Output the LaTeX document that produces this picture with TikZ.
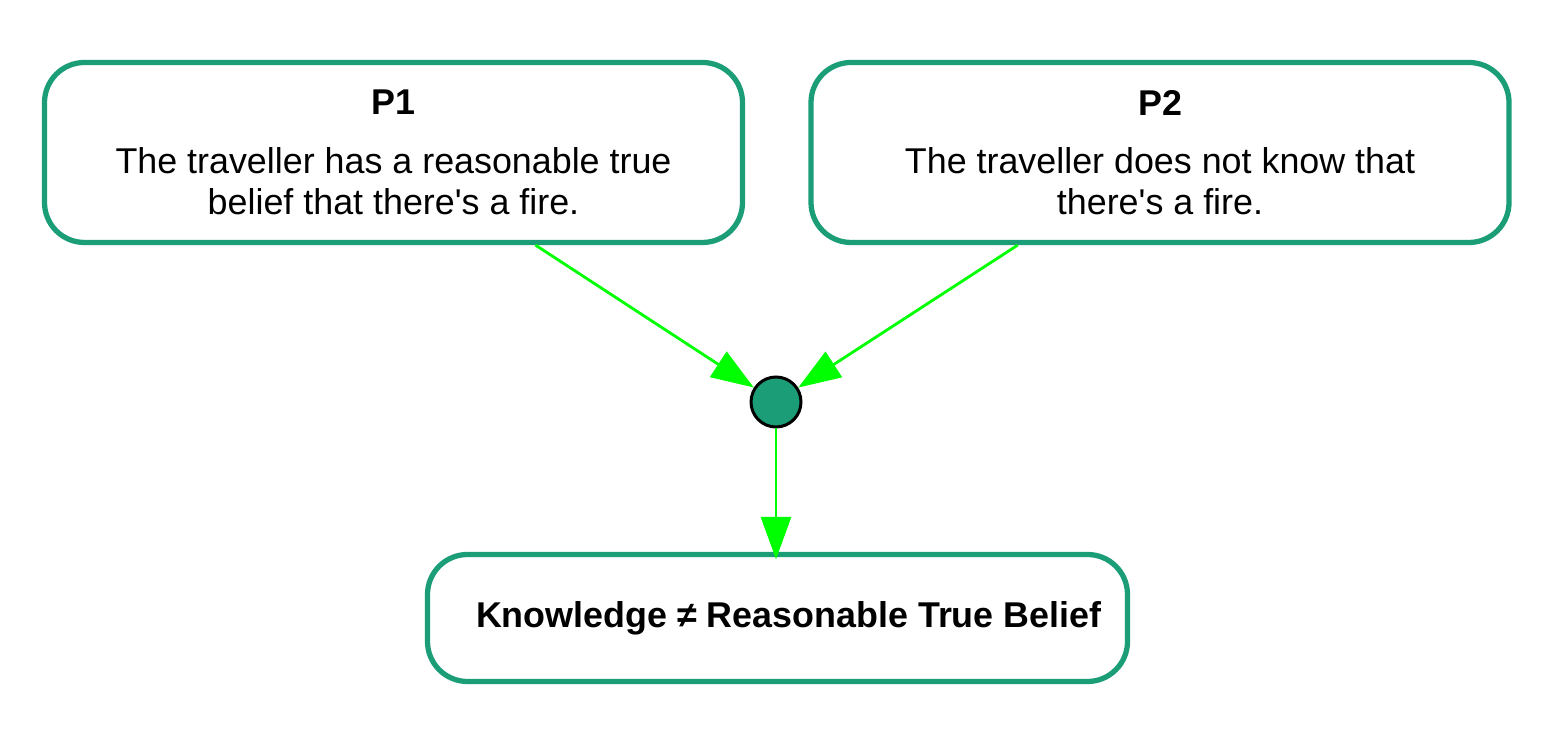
\documentclass[tikz,border=0pt]{standalone}
\usepackage{fontspec}
\setmainfont{Liberation Sans}
\usetikzlibrary{shapes,arrows.meta,positioning}
\definecolor{boxgreen}{HTML}{1B9E77}
\definecolor{arrowgreen}{HTML}{00FF00}
\tikzstyle{claim} = [rectangle, draw=boxgreen, line width=3pt, rounded corners=0.8cm, minimum width=13.96cm, minimum height=3.6cm, align=center, font=\fontsize{20.4}{23.2}\selectfont]
\tikzstyle{junction} = [circle, draw, fill=boxgreen, line width=1.7pt, minimum size=1cm, inner sep=0pt]
\tikzstyle{line} = [draw, arrowgreen, line width=1.6pt, -{Triangle[length=0.85cm, width=0.6cm]}]

\begin{document}
\begin{tikzpicture}
			\useasboundingbox (0,0) rectangle (31.04,14.62);
			\node [claim] (p1) at (7.87, 11.57) {\textbf{P1}\\[0.36cm] The traveller has a reasonable true\\ belief that there\textquotesingle s a fire.};
			\node [claim] (p2) at (23.2, 11.57) {\textbf{P2}\\[0.36cm] The traveller does not know that\\ there\textquotesingle s a fire.};
			\node [junction] (dot) at (15.52, 6.58) {};
			\node [claim, minimum width=14cm, minimum height=2.54cm] (kn) at (15.55, 2.26) {\hspace{0.45cm}\textbf{Knowledge ≠ Reasonable True Belief}};

			\path [line] (p1) -- (dot);
			\path [line] (p2) -- (dot);
			\path [line, shorten >=-0.15cm] (dot) -- (dot |- kn.north);
		\end{tikzpicture}
\end{document}
